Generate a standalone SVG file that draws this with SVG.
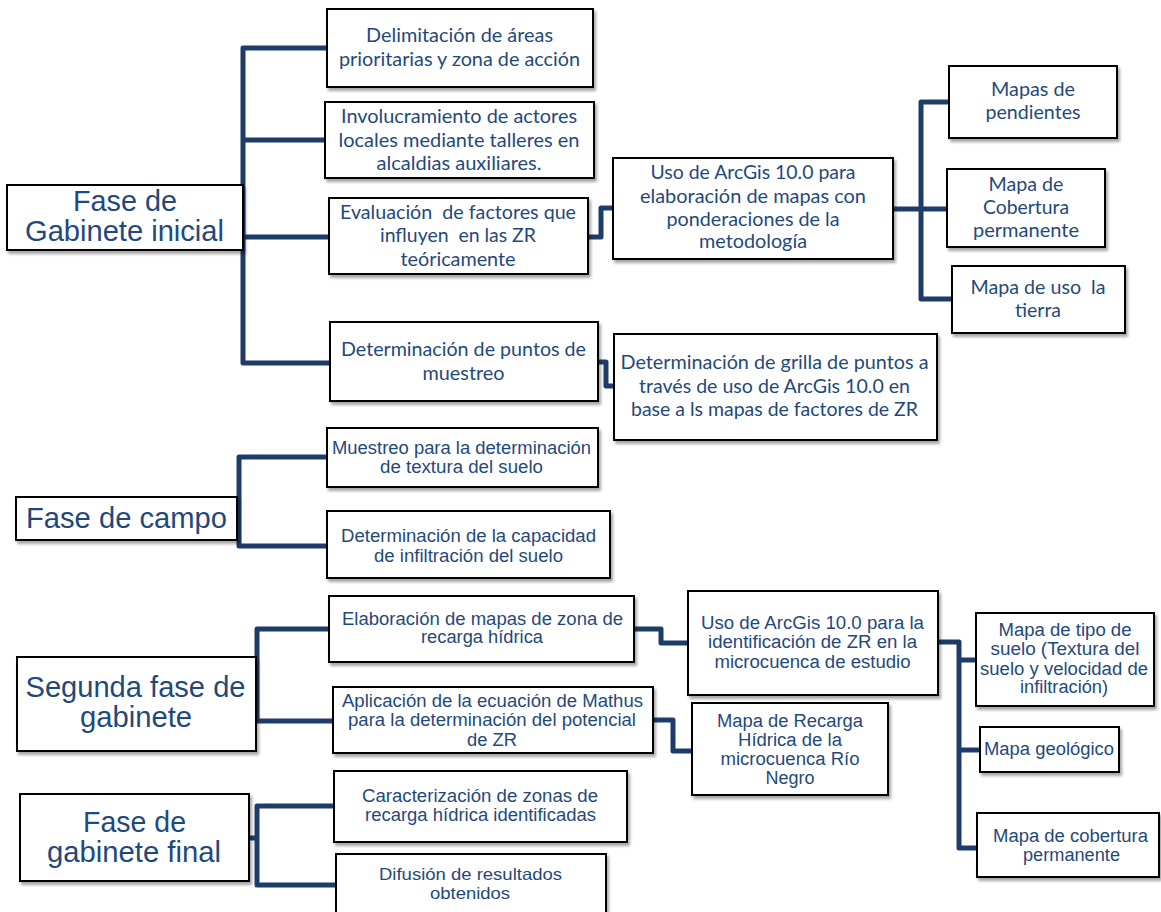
<svg xmlns="http://www.w3.org/2000/svg" width="1161" height="912" viewBox="0 0 1161 912">
  <defs>
    <filter id="sh" x="-10%" y="-10%" width="130%" height="140%">
      <feDropShadow dx="2" dy="3" stdDeviation="1.8" flood-color="#000" flood-opacity="0.35"/>
    </filter>
    <style>
      .box { fill:#fff; stroke:#000; stroke-width:2; filter:url(#sh); }
      text { fill:#1F497D; text-anchor:middle; white-space:pre; }
      .cal { font-family:Lato, "Open Sans", sans-serif; font-size:19px; }
      .nar { font-family:"Liberation Sans", Arial, sans-serif; font-size:17.5px; }
      .sm { font-size:16.5px; }
      .ari { font-family:"Liberation Sans", Arial, sans-serif; font-size:18px; }
      .ttl { font-family:"Liberation Sans", Arial, sans-serif; font-size:29px; }
      .wire { fill:none; stroke:#1e3c69; stroke-width:5; stroke-linejoin:round; stroke-linecap:butt; }
    </style>
  </defs>
  <rect width="1161" height="912" fill="#fff"/>

  <!-- connectors -->
  <g id="connectors">
    <!-- Fase de Gabinete inicial -->
    <path class="wire" d="M327,48 H243 V363 H330"/>
    <path class="wire" d="M243,140 H325"/>
    <path class="wire" d="M243,237 H329"/>
    <path class="wire" d="M588,237 H601 V208 H613"/>
    <path class="wire" d="M893,209 H947"/>
    <path class="wire" d="M949,102 H921 V299 H952"/>
    <path class="wire" d="M598,362 H606 V386 H614"/>
    <!-- Fase de campo -->
    <path class="wire" d="M327,457 H239 V546 H327"/>
    <!-- Segunda fase de gabinete -->
    <path class="wire" d="M329,629 H257 V721 H333"/>
    <path class="wire" d="M634,629 H661 V643 H688"/>
    <path class="wire" d="M653,720 H673 V751 H692"/>
    <path class="wire" d="M938,642 H959 V848 H977"/>
    <path class="wire" d="M959,660 H976"/>
    <path class="wire" d="M959,750 H980"/>
    <!-- Fase de gabinete final -->
    <path class="wire" d="M334,806 H257 V885 H336"/>
    <path class="wire" d="M249,838 H257"/>
  </g>

  <!-- Fase de Gabinete inicial -->
  <g id="fase-gabinete-inicial">
    <rect class="box" x="7" y="185" width="236" height="65"/>
    <text class="ttl" x="125" y="211" textLength="104" lengthAdjust="spacingAndGlyphs">Fase de</text>
    <text class="ttl" x="124.5" y="241" textLength="199" lengthAdjust="spacingAndGlyphs">Gabinete inicial</text>
  </g>
  <g id="delimitacion">
    <rect class="box" x="327" y="9" width="266" height="78"/>
    <text class="cal" x="459.5" y="42" textLength="187" lengthAdjust="spacingAndGlyphs">Delimitación de áreas</text>
    <text class="cal" x="459.5" y="66" textLength="241" lengthAdjust="spacingAndGlyphs">prioritarias y zona de acción</text>
  </g>
  <g id="involucramiento">
    <rect class="box" x="325" y="102" width="269" height="76"/>
    <text class="cal" x="459" y="123" textLength="236" lengthAdjust="spacingAndGlyphs">Involucramiento de actores</text>
    <text class="cal" x="459" y="147" textLength="241" lengthAdjust="spacingAndGlyphs">locales mediante talleres en</text>
    <text class="cal" x="459" y="170" textLength="165" lengthAdjust="spacingAndGlyphs">alcaldias auxiliares.</text>
  </g>
  <g id="evaluacion">
    <rect class="box" x="329" y="198" width="259" height="76"/>
    <text class="cal" x="458" y="219" textLength="236" lengthAdjust="spacingAndGlyphs">Evaluación  de factores que</text>
    <text class="cal" x="458" y="242" textLength="156" lengthAdjust="spacingAndGlyphs">influyen  en las ZR</text>
    <text class="cal" x="458" y="266" textLength="115" lengthAdjust="spacingAndGlyphs">teóricamente</text>
  </g>
  <g id="uso-arcgis-ponderaciones">
    <rect class="box" x="613" y="158" width="280" height="101"/>
    <text class="cal" x="753" y="179" textLength="205" lengthAdjust="spacingAndGlyphs">Uso de ArcGis 10.0 para</text>
    <text class="cal" x="753" y="203" textLength="226" lengthAdjust="spacingAndGlyphs">elaboración de mapas con</text>
    <text class="cal" x="753" y="226" textLength="173" lengthAdjust="spacingAndGlyphs">ponderaciones de la</text>
    <text class="cal" x="753" y="248" textLength="108" lengthAdjust="spacingAndGlyphs">metodología</text>
  </g>
  <g id="mapas-pendientes">
    <rect class="box" x="949" y="66" width="168" height="72"/>
    <text class="cal" x="1033" y="96" textLength="84" lengthAdjust="spacingAndGlyphs">Mapas de</text>
    <text class="cal" x="1033" y="119" textLength="95" lengthAdjust="spacingAndGlyphs">pendientes</text>
  </g>
  <g id="mapa-cobertura-1">
    <rect class="box" x="947" y="169" width="158" height="78"/>
    <text class="cal" x="1026" y="191" textLength="75" lengthAdjust="spacingAndGlyphs">Mapa de</text>
    <text class="cal" x="1026" y="214" textLength="86" lengthAdjust="spacingAndGlyphs">Cobertura</text>
    <text class="cal" x="1026" y="237" textLength="106" lengthAdjust="spacingAndGlyphs">permanente</text>
  </g>
  <g id="mapa-uso-tierra">
    <rect class="box" x="952" y="266" width="173" height="67"/>
    <text class="cal" x="1038" y="294" textLength="135" lengthAdjust="spacingAndGlyphs">Mapa de uso  la</text>
    <text class="cal" x="1038" y="317" textLength="46" lengthAdjust="spacingAndGlyphs">tierra</text>
  </g>
  <g id="puntos-muestreo">
    <rect class="box" x="330" y="322" width="268" height="79"/>
    <text class="cal" x="463.5" y="356" textLength="245" lengthAdjust="spacingAndGlyphs">Determinación de puntos de</text>
    <text class="cal" x="463.5" y="380" textLength="82" lengthAdjust="spacingAndGlyphs">muestreo</text>
  </g>
  <g id="grilla-puntos">
    <rect class="box" x="614" y="334" width="323" height="106"/>
    <text class="cal" x="774.5" y="369" textLength="308" lengthAdjust="spacingAndGlyphs">Determinación de grilla de puntos a</text>
    <text class="cal" x="774.5" y="393" textLength="271" lengthAdjust="spacingAndGlyphs">través de uso de ArcGis 10.0 en</text>
    <text class="cal" x="774.5" y="416" textLength="287" lengthAdjust="spacingAndGlyphs">base a ls mapas de factores de ZR</text>
  </g>

  <!-- Fase de campo -->
  <g id="fase-campo">
    <rect class="box" x="16" y="497" width="221" height="43"/>
    <text class="ttl" x="126.5" y="528" textLength="201" lengthAdjust="spacingAndGlyphs">Fase de campo</text>
  </g>
  <g id="muestreo-textura">
    <rect class="box" x="327" y="428" width="271" height="59"/>
    <text class="nar" x="461.5" y="454" textLength="259" lengthAdjust="spacingAndGlyphs">Muestreo para la determinación</text>
    <text class="nar" x="461.5" y="473" textLength="163" lengthAdjust="spacingAndGlyphs">de textura del suelo</text>
  </g>
  <g id="capacidad-infiltracion">
    <rect class="box" x="327" y="511" width="283" height="67"/>
    <text class="nar" x="468.5" y="542" textLength="255" lengthAdjust="spacingAndGlyphs">Determinación de la capacidad</text>
    <text class="nar" x="468.5" y="562" textLength="189" lengthAdjust="spacingAndGlyphs">de infiltración del suelo</text>
  </g>

  <!-- Segunda fase de gabinete -->
  <g id="segunda-fase">
    <rect class="box" x="17" y="657" width="239" height="94"/>
    <text class="ttl" x="135.5" y="697" textLength="220" lengthAdjust="spacingAndGlyphs">Segunda fase de</text>
    <text class="ttl" x="136" y="727" textLength="112" lengthAdjust="spacingAndGlyphs">gabinete</text>
  </g>
  <g id="elaboracion-mapas">
    <rect class="box" x="329" y="596" width="305" height="66"/>
    <text class="nar" x="482.5" y="625" textLength="281" lengthAdjust="spacingAndGlyphs">Elaboración de mapas de zona de</text>
    <text class="nar" x="482" y="643" textLength="122" lengthAdjust="spacingAndGlyphs">recarga hídrica</text>
  </g>
  <g id="ecuacion-mathus">
    <rect class="box" x="333" y="687" width="320" height="66"/>
    <text class="nar" x="492.5" y="707" textLength="301" lengthAdjust="spacingAndGlyphs">Aplicación de la ecuación de Mathus</text>
    <text class="nar" x="492" y="726" textLength="288" lengthAdjust="spacingAndGlyphs">para la determinación del potencial</text>
    <text class="nar" x="492" y="746" textLength="50" lengthAdjust="spacingAndGlyphs">de ZR</text>
  </g>
  <g id="uso-arcgis-identificacion">
    <rect class="box" x="688" y="591" width="250" height="104"/>
    <text class="ari" x="812.5" y="629" textLength="223" lengthAdjust="spacingAndGlyphs">Uso de ArcGis 10.0 para la</text>
    <text class="ari" x="812.5" y="648" textLength="209" lengthAdjust="spacingAndGlyphs">identificación de ZR en la</text>
    <text class="ari" x="812.5" y="668" textLength="196" lengthAdjust="spacingAndGlyphs">microcuenca de estudio</text>
  </g>
  <g id="mapa-recarga">
    <rect class="box" x="692" y="703" width="196" height="92"/>
    <text class="ari" x="790" y="727" textLength="146" lengthAdjust="spacingAndGlyphs">Mapa de Recarga</text>
    <text class="ari" x="790" y="746" textLength="104" lengthAdjust="spacingAndGlyphs">Hídrica de la</text>
    <text class="ari" x="790" y="765" textLength="139" lengthAdjust="spacingAndGlyphs">microcuenca Río</text>
    <text class="ari" x="790" y="784" textLength="49" lengthAdjust="spacingAndGlyphs">Negro</text>
  </g>
  <g id="mapa-tipo-suelo">
    <rect class="box" x="976" y="613" width="178" height="93"/>
    <text class="ari" x="1065" y="636" textLength="133" lengthAdjust="spacingAndGlyphs">Mapa de tipo de</text>
    <text class="ari" x="1065" y="655" textLength="149" lengthAdjust="spacingAndGlyphs">suelo (Textura del</text>
    <text class="ari" x="1064" y="675" textLength="168" lengthAdjust="spacingAndGlyphs">suelo y velocidad de</text>
    <text class="ari" x="1064" y="693" textLength="88" lengthAdjust="spacingAndGlyphs">infiltración)</text>
  </g>
  <g id="mapa-geologico">
    <rect class="box" x="980" y="727" width="139" height="45"/>
    <text class="ari" x="1049" y="755" textLength="130" lengthAdjust="spacingAndGlyphs">Mapa geológico</text>
  </g>
  <g id="mapa-cobertura-2">
    <rect class="box" x="977" y="813" width="182" height="64"/>
    <text class="ari" x="1070.5" y="842" textLength="155" lengthAdjust="spacingAndGlyphs">Mapa de cobertura</text>
    <text class="ari" x="1071.5" y="861" textLength="97" lengthAdjust="spacingAndGlyphs">permanente</text>
  </g>

  <!-- Fase de gabinete final -->
  <g id="fase-gabinete-final">
    <rect class="box" x="20" y="794" width="229" height="87"/>
    <text class="ttl" x="134.5" y="832" textLength="103" lengthAdjust="spacingAndGlyphs">Fase de</text>
    <text class="ttl" x="134" y="862" textLength="174" lengthAdjust="spacingAndGlyphs">gabinete final</text>
  </g>
  <g id="caracterizacion">
    <rect class="box" x="334" y="771" width="293" height="71"/>
    <text class="nar" x="480" y="802" textLength="236" lengthAdjust="spacingAndGlyphs">Caracterización de zonas de</text>
    <text class="nar" x="480.5" y="821" textLength="231" lengthAdjust="spacingAndGlyphs">recarga hídrica identificadas</text>
  </g>
  <g id="difusion">
    <rect class="box" x="336" y="854" width="270" height="70"/>
    <text class="nar sm" x="470.5" y="880" textLength="183" lengthAdjust="spacingAndGlyphs">Difusión de resultados</text>
    <text class="nar sm" x="470" y="899" textLength="80" lengthAdjust="spacingAndGlyphs">obtenidos</text>
  </g>
</svg>
